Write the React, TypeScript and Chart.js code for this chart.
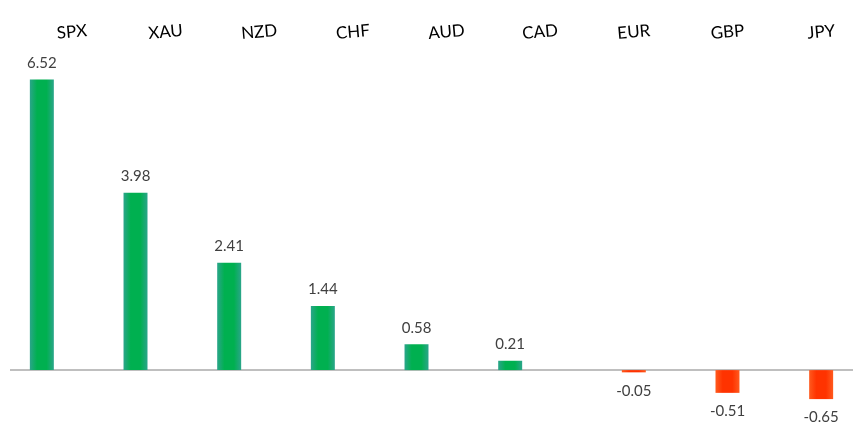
import React, { useEffect, useRef } from "react";
import { Chart, registerables } from "chart.js";

Chart.register(...registerables);

const categories = ["SPX", "XAU", "NZD", "CHF", "AUD", "CAD", "EUR", "GBP", "JPY"];
const values = [6.52, 3.98, 2.41, 1.44, 0.58, 0.21, -0.05, -0.51, -0.65];
const positiveValues = values.map((v) => (v >= 0 ? v : null));
const negativeValues = values.map((v) => (v < 0 ? v : null));

const CAT_PCT = 0.64;
const BAR_PCT = 0.8;

function barGeom(chart: any, index: number, dsIndex: number) {
  const xs = chart.scales.x;
  const catW = (chart.chartArea.right - chart.chartArea.left) / categories.length;
  const off = (catW * CAT_PCT) / 4;
  const c = xs.getPixelForValue(index) + (dsIndex === 0 ? -off : off);
  const w = ((catW * CAT_PCT) / 2) * BAR_PCT;
  return { left: c - w / 2, right: c + w / 2 };
}

function makeFill(ctx: any, edge: string, mid: string) {
  const chart = ctx.chart;
  if (!chart.chartArea || !chart.scales || !chart.scales.x) return mid;
  const g = barGeom(chart, ctx.dataIndex, ctx.datasetIndex);
  const grad = chart.ctx.createLinearGradient(g.left, 0, g.right, 0);
  grad.addColorStop(0, edge);
  grad.addColorStop(0.3, mid);
  grad.addColorStop(0.7, mid);
  grad.addColorStop(1, edge);
  return grad;
}

const overlayPlugin = {
  id: "overlay",
  beforeDatasetsDraw(chart: any) {
    const { ctx, chartArea } = chart;
    const y0 = chart.scales.y.getPixelForValue(0);
    ctx.save();
    ctx.strokeStyle = "#BFBFBF";
    ctx.lineWidth = 2;
    ctx.beginPath();
    ctx.moveTo(chartArea.left, y0);
    ctx.lineTo(chartArea.right, y0);
    ctx.stroke();
    ctx.restore();
  },
  afterDatasetsDraw(chart: any) {
    const { ctx } = chart;
    const xs = chart.scales.x;
    const catW = (chart.chartArea.right - chart.chartArea.left) / categories.length;
    const off = (catW * CAT_PCT) / 4;
    ctx.save();
    // category labels along the top
    ctx.fillStyle = "#000000";
    ctx.font = "17px Lato, 'Open Sans', sans-serif";
    ctx.textAlign = "center";
    ctx.textBaseline = "middle";
    categories.forEach((cat, i) => {
      const x = xs.getPixelForValue(i) + off;
      ctx.save();
      ctx.translate(x, 32);
      ctx.rotate((-5 * Math.PI) / 180);
      ctx.fillText(cat, 0, 0);
      ctx.restore();
    });
    // value labels
    ctx.fillStyle = "#404040";
    ctx.font = "15px Lato, 'Open Sans', sans-serif";
    chart.data.datasets.forEach((ds: any, di: number) => {
      const meta = chart.getDatasetMeta(di);
      meta.data.forEach((el: any, i: number) => {
        const v = ds.data[i];
        if (v === null || v === undefined) return;
        const txt = v.toFixed(2);
        if (v >= 0) {
          ctx.textBaseline = "bottom";
          ctx.fillText(txt, el.x, el.y - 9);
        } else {
          ctx.textBaseline = "top";
          ctx.fillText(txt, el.x, el.y + 11);
        }
      });
    });
    ctx.restore();
  },
};

export default function App() {
  const ref = useRef<HTMLCanvasElement | null>(null);
  useEffect(() => {
    if (!ref.current) return;
    const chart = new Chart(ref.current, {
      type: "bar",
      data: {
        labels: categories,
        datasets: [
          {
            data: positiveValues as any,
            backgroundColor: (c: any) => makeFill(c, "#2BA58A", "#00B050"),
            categoryPercentage: CAT_PCT,
            barPercentage: BAR_PCT,
          },
          {
            data: negativeValues as any,
            backgroundColor: (c: any) => makeFill(c, "#FF5A1E", "#FF3300"),
            categoryPercentage: CAT_PCT,
            barPercentage: BAR_PCT,
          },
        ],
      },
      options: {
        responsive: false,
        animation: false,
        layout: { padding: { left: 10, right: 14, top: 58, bottom: 7 } },
        plugins: { legend: { display: false }, tooltip: { enabled: false } },
        scales: {
          x: { display: false, grid: { display: false } },
          y: { display: false, min: -1.5, max: 7 },
        },
      },
      plugins: [overlayPlugin],
    });
    return () => chart.destroy();
  }, []);
  return (
    <div style={{ position: "fixed", left: 0, top: 0, width: 867, height: 444, background: "#fff" }}>
      <canvas ref={ref} width={867} height={444} />
    </div>
  );
}
